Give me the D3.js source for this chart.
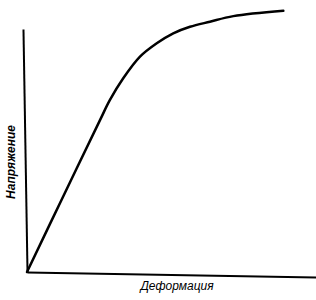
<!DOCTYPE html>
<html>
<head>
<meta charset="utf-8">
<script src="https://cdn.jsdelivr.net/npm/d3@7"></script>
<style>
  body { margin: 0; background: #fff; }
</style>
</head>
<body>
<div id="chart"></div>
<script>
// кривая напряжение-деформация (условные единицы)
const strain = [0, 12.6, 25.3, 28.7, 33.3, 39.1, 44.9, 50.6, 56.4, 63.3, 71.4, 88.7];
const stress = [0, 31.3, 62.6, 70.8, 79.7, 88.6, 94.1, 98.2, 100.9, 103.0, 105.3, 107.5];
const xLabel = "Деформация";
const yLabel = "Напряжение";

const data = strain.map((d, i) => ({ x: d, y: stress[i] }));

const width = 316, height = 300;
const margin = { top: 29, right: 0, bottom: 28, left: 27 };

const svg = d3.select("#chart")
    .append("svg")
    .attr("width", width)
    .attr("height", height);

const xScale = d3.scaleLinear()
    .domain([0, 100])
    .range([margin.left, width - margin.right]);

const yScale = d3.scaleLinear()
    .domain([0, 100])
    .range([height - margin.bottom, margin.top]);

const ox = xScale(0), oy = yScale(0);

// оси (слегка наклонены, как на рисунке)
svg.append("g")
    .attr("transform", `rotate(1, ${ox}, ${oy}) translate(0,${oy})`)
    .call(d3.axisBottom(xScale).ticks(0).tickSize(0).tickSizeOuter(0))
    .call(g => g.select(".domain").attr("stroke", "#000").attr("stroke-width", 2));

svg.append("g")
    .attr("transform", `rotate(-0.95, ${ox}, ${oy}) translate(${ox},0)`)
    .call(d3.axisLeft(yScale).ticks(0).tickSize(0).tickSizeOuter(0))
    .call(g => g.select(".domain").attr("stroke", "#000").attr("stroke-width", 2));

// кривая
const line = d3.line()
    .x(d => xScale(d.x))
    .y(d => yScale(d.y))
    .curve(d3.curveCatmullRom.alpha(0.5));

svg.append("path")
    .datum(data)
    .attr("d", line)
    .attr("fill", "none")
    .attr("stroke", "#000")
    .attr("stroke-width", 2.5)
    .attr("stroke-linecap", "round");

// подписи осей
svg.append("text")
    .attr("x", 177)
    .attr("y", 290)
    .attr("text-anchor", "middle")
    .style("font-family", "Liberation Sans, sans-serif")
    .style("font-style", "italic")
    .style("font-size", "12px")
    .text(xLabel);

svg.append("text")
    .attr("transform", "rotate(-90)")
    .attr("x", -162)
    .attr("y", 15)
    .attr("text-anchor", "middle")
    .style("font-family", "Liberation Sans, sans-serif")
    .style("font-style", "italic")
    .style("font-weight", "bold")
    .style("font-size", "12px")
    .text(yLabel);
</script>
</body>
</html>
